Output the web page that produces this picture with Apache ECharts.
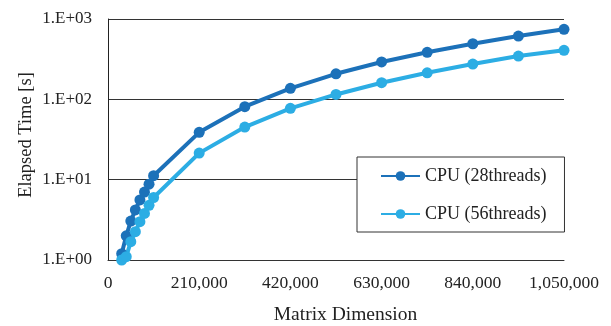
<!DOCTYPE html>
<html>
<head>
<meta charset="utf-8">
<script src="https://cdn.jsdelivr.net/npm/echarts@6/dist/echarts.min.js"></script>
<style>html,body{margin:0;padding:0;background:#fff;}#c{width:611px;height:326px;}</style>
</head>
<body>
<div id="c"></div>
<script>
const matrixDims = [31500, 42000, 52500, 63000, 73500, 84000, 94500, 105000,
  210000, 315000, 420000, 525000, 630000, 735000, 840000, 945000, 1050000];
const cpu28 = [1.2, 2.0, 3.05, 4.2, 5.6, 7.0, 8.8, 11.2,
  38.8, 81, 137, 208, 292, 385, 492, 614, 744];
const cpu56 = [1.0, 1.1, 1.69, 2.25, 3.0, 3.8, 4.8, 6.0,
  21.4, 45.2, 77.3, 115, 161, 214, 275, 346, 408];
const seriesNames = ['CPU (28threads)', 'CPU (56threads)'];
const xTicks = [0, 210000, 420000, 630000, 840000, 1050000];
const yTicks = [1, 10, 100, 1000];
const xTitle = 'Matrix Dimension';
const yTitle = 'Elapsed Time [s]';

const font = 'Liberation Serif';
const chart = echarts.init(document.getElementById('c'), null, {renderer: 'canvas'});
function pairs(xs, ys) { return xs.map((x, i) => [x, ys[i]]); }
chart.setOption({
  animation: false,
  backgroundColor: '#fff',
  textStyle: {fontFamily: font, color: '#222'},
  grid: {left: 108, right: 47, top: 19, bottom: 66},
  graphic: [
    {type: 'text', x: 345.5, y: 315, style: {text: xTitle, fill: '#222',
      font: '19.5px "Liberation Serif"', textAlign: 'center', textVerticalAlign: 'middle'}},
    {type: 'text', x: 26, y: 135, rotation: Math.PI / 2, style: {text: yTitle, fill: '#222',
      font: '18.5px "Liberation Serif"', textAlign: 'center', textVerticalAlign: 'middle'}}
  ],
  legend: {
    orient: 'vertical',
    left: 357, top: 157,
    padding: [10, 18, 9, 23],
    itemGap: 20,
    itemWidth: 39, itemHeight: 12,
    backgroundColor: '#fff',
    borderColor: '#333', borderWidth: 1,
    textStyle: {fontFamily: font, fontSize: 18, color: '#222'},
    data: seriesNames
  },
  xAxis: {
    type: 'value',
    min: xTicks[0], max: xTicks[xTicks.length - 1], interval: 210000,
    axisLine: {show: true, lineStyle: {color: '#333', width: 1}},
    axisTick: {show: false},
    splitLine: {show: false},
    axisLabel: {fontFamily: font, fontSize: 17.5, color: '#222', margin: 14,
      formatter: v => v.toLocaleString('en-US')}
  },
  yAxis: {
    type: 'log', logBase: 10,
    min: yTicks[0], max: yTicks[yTicks.length - 1],
    axisLine: {show: true, lineStyle: {color: '#222', width: 1}},
    axisTick: {show: false},
    splitLine: {show: true, lineStyle: {color: '#333', width: 1}},
    axisLabel: {fontFamily: font, fontSize: 17, color: '#222', margin: 16,
      formatter: v => '1.E+' + String(Math.round(Math.log10(v))).padStart(2, '0')}
  },
  series: [
    {name: seriesNames[0], type: 'line', data: pairs(matrixDims, cpu28),
      symbol: 'circle', symbolSize: 11, clip: false,
      lineStyle: {width: 4, color: '#1c71b9'}, itemStyle: {color: '#1c71b9'}},
    {name: seriesNames[1], type: 'line', data: pairs(matrixDims, cpu56),
      symbol: 'circle', symbolSize: 11, clip: false,
      lineStyle: {width: 4, color: '#2cade4'}, itemStyle: {color: '#2cade4'}}
  ]
});
</script>
</body>
</html>
